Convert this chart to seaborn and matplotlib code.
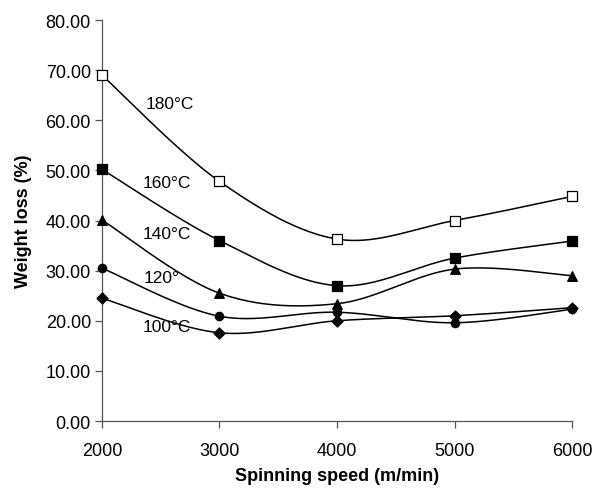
import numpy as np
import pandas as pd
import matplotlib
matplotlib.use("Agg")
import matplotlib.pyplot as plt
import seaborn as sns

speeds = [2000, 3000, 4000, 5000, 6000]
t180 = [69.0, 47.8, 36.3, 40.0, 44.8]
t160 = [50.2, 36.0, 27.0, 32.5, 35.9]
t140 = [40.1, 25.5, 23.4, 30.3, 29.0]
t120 = [30.5, 20.9, 21.7, 19.6, 22.3]
t100 = [24.5, 17.6, 20.0, 21.0, 22.6]

series_names = ["180°C", "160°C", "140°C", "120°", "100°C"]
series_vals = [t180, t160, t140, t120, t100]
label_pos = [(2580, 63.3), (2555, 47.5), (2555, 37.5), (2510, 28.7), (2555, 18.8)]
markers = ["s", "s", "^", "o", "D"]
faces = ["white", "black", "black", "black", "black"]
msizes = [42, 42, 48, 36, 32]

sns.set_style("white")
plt.rcParams["font.family"] = ["Liberation Sans", "DejaVu Sans"]


def smooth(xs, ys, n=40):
    xs = np.asarray(xs, float)
    ys = np.asarray(ys, float)
    P = np.column_stack([xs, ys])
    out = []
    for i in range(len(P) - 1):
        p0 = P[i - 1] if i > 0 else P[i]
        p1 = P[i]
        p2 = P[i + 1]
        p3 = P[i + 2] if i + 2 < len(P) else P[i + 1]
        c1 = p1 + (p2 - p0) / 6.0
        c2 = p2 - (p3 - p1) / 6.0
        t = np.linspace(0, 1, n)[:, None]
        seg = ((1 - t) ** 3) * p1 + 3 * ((1 - t) ** 2) * t * c1 + 3 * (1 - t) * t ** 2 * c2 + t ** 3 * p2
        if i > 0:
            seg = seg[1:]
        out.append(seg)
    arr = np.vstack(out)
    return arr[:, 0], arr[:, 1]


fig = plt.figure(figsize=(5.93, 4.89), dpi=100)
ax = fig.add_axes([0.172, 0.137, 0.7926, 0.820])

for name, vals, pos, m, fc, ms in zip(series_names, series_vals, label_pos, markers, faces, msizes):
    sx, sy = smooth(speeds, vals)
    df = pd.DataFrame({"x": sx, "y": sy})
    sns.lineplot(data=df, x="x", y="y", sort=False, estimator=None, color="black", linewidth=1.1, ax=ax)
    sns.scatterplot(x=speeds, y=vals, marker=m, s=ms, facecolor=fc, edgecolor="black",
                    linewidth=0.9, ax=ax, zorder=5, clip_on=False)
    ax.text(pos[0], pos[1], name, fontsize=12.5, ha="center", va="center", color="black")

ax.set_xlim(2000, 6000)
ax.set_ylim(0, 80)
ax.set_xticks(speeds)
ax.set_xticklabels([str(s) for s in speeds])
ax.set_yticks(np.arange(0, 81, 10))
ax.set_yticklabels([f"{v:.2f}" for v in np.arange(0, 81, 10)])
ax.tick_params(axis="both", direction="out", length=5, width=0.9, color="#555555",
               labelsize=13, labelcolor="black", pad=3, bottom=True, left=True)
ax.tick_params(axis="x", pad=10)
for s in ["top", "right"]:
    ax.spines[s].set_visible(False)
for s in ["left", "bottom"]:
    ax.spines[s].set_color("#555555")
    ax.spines[s].set_linewidth(0.9)

ax.set_xlabel("Spinning speed (m/min)", fontsize=13, fontweight="bold", labelpad=6, color="black")
ax.set_ylabel("Weight loss (%)", fontsize=13, fontweight="bold", labelpad=10, color="black")

fig.savefig("out.png", dpi=100)
